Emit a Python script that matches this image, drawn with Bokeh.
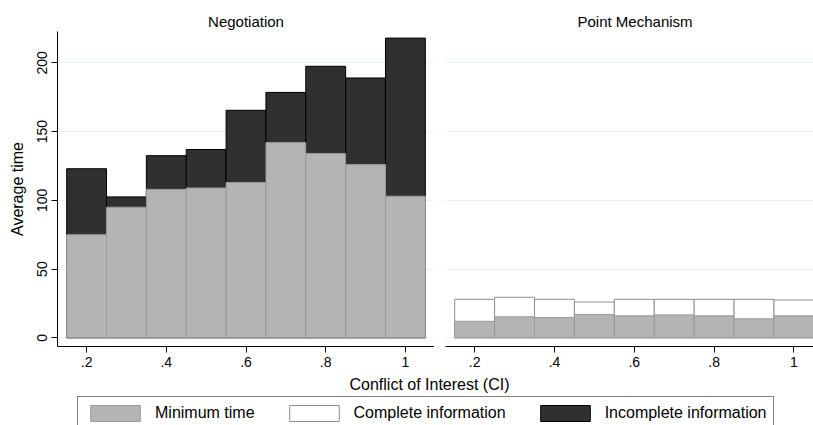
from bokeh.plotting import figure
from bokeh.layouts import column, row
from bokeh.models import (Range1d, FixedTicker, Grid, Legend, LegendItem,
                          Label, ColumnDataSource, Title)
from bokeh.embed import file_html
from bokeh.resources import INLINE

# ---- data ----
ci = [0.2, 0.3, 0.4, 0.5, 0.6, 0.7, 0.8, 0.9, 1.0]
neg_min = [75, 95, 108, 109, 113, 142, 134, 126, 103]
neg_incomplete = [123, 102.5, 132.5, 137, 165.5, 178.5, 197.5, 189, 218]
pm_min = [12, 15.3, 14.8, 17, 16, 16.7, 16, 13.8, 16]
pm_complete = [28, 29.5, 28, 26, 28, 28, 28, 28, 27.5]
x_ticks = [0.2, 0.4, 0.6, 0.8, 1.0]
x_tick_labels = [".2", ".4", ".6", ".8", "1"]
y_ticks = [0, 50, 100, 150, 200]
panel_titles = ["Negotiation", "Point Mechanism"]
legend_labels = ["Minimum time", "Complete information", "Incomplete information"]

FONT = "Liberation Sans"
GREY, GREY_LINE = "#b4b4b4", "#9a9a9a"
DARK, DARK_LINE = "#303030", "#000000"
WHITE, WHITE_LINE = "#ffffff", "#8f8f8f"
GRID = "#e8f0f1"

TOTAL_W, TOTAL_H = 813, 425
PANEL_H = 376
y_range = Range1d(-6.3, 222.8)


def style_xaxis(p):
    ax = p.xaxis[0]
    ax.ticker = FixedTicker(ticks=x_ticks)
    ax.major_label_overrides = {t: l for t, l in zip(x_ticks, x_tick_labels)}
    ax.major_tick_out = 6
    ax.major_tick_in = 0
    ax.minor_tick_line_color = None
    ax.major_label_standoff = 4
    ax.major_label_text_font = FONT
    ax.major_label_text_font_size = "14px"
    ax.major_label_text_color = "black"
    ax.axis_line_color = "black"
    ax.major_tick_line_color = "black"


def make_title(text, align, offset=0):
    return Title(text=text, align=align, offset=offset, text_font=FONT,
                 text_font_size="15px", text_font_style="normal",
                 text_color="black", standoff=3)


# ---- left panel ----
pl = figure(width=434, height=PANEL_H, output_backend="svg", toolbar_location=None,
            x_range=Range1d(0.127, 1.073), y_range=y_range,
            min_border_left=57, min_border_right=0, min_border_top=31,
            min_border_bottom=30, outline_line_color=None, title=None)
pl.add_layout(make_title(panel_titles[0], "center"), "above")
pl.vbar(x=ci, top=neg_incomplete, bottom=0, width=0.1,
        fill_color=DARK, line_color=DARK_LINE, line_width=1)
pl.vbar(x=ci, top=neg_min, bottom=0, width=0.1,
        fill_color=GREY, line_color=GREY_LINE, line_width=1)
style_xaxis(pl)
ya = pl.yaxis[0]
ya.ticker = FixedTicker(ticks=y_ticks)
ya.major_label_orientation = "vertical"
ya.major_tick_out = 6
ya.major_tick_in = 0
ya.minor_tick_line_color = None
ya.major_label_standoff = 4
ya.major_label_text_font = FONT
ya.major_label_text_font_size = "14px"
ya.major_label_text_color = "black"
ya.axis_line_color = "black"
ya.axis_label = "Average time"
ya.axis_label_text_font = FONT
ya.axis_label_text_font_size = "16px"
ya.axis_label_text_font_style = "normal"
ya.axis_label_text_color = "black"
ya.axis_label_standoff = 9
pl.xgrid.grid_line_color = None
pl.ygrid.grid_line_color = GRID
pl.ygrid.ticker = FixedTicker(ticks=y_ticks)

# ---- right panel ----
pr = figure(width=TOTAL_W - 434, height=PANEL_H, output_backend="svg",
            toolbar_location=None,
            x_range=Range1d(0.127, 1.049), y_range=y_range, y_axis_location=None,
            min_border_left=11, min_border_right=0, min_border_top=31,
            min_border_bottom=30, outline_line_color=None, title=None)
pr.add_layout(make_title(panel_titles[1], "left", 132), "above")
pr.add_layout(Grid(dimension=1, ticker=FixedTicker(ticks=y_ticks),
                   grid_line_color=GRID), "center")
pr.vbar(x=ci, top=pm_complete, bottom=0, width=0.1,
        fill_color=WHITE, line_color=WHITE_LINE, line_width=1)
pr.vbar(x=ci, top=pm_min, bottom=0, width=0.1,
        fill_color=GREY, line_color=GREY_LINE, line_width=1)
style_xaxis(pr)
pr.xgrid.grid_line_color = None

# ---- bottom: shared x-axis title and legend ----
BH = TOTAL_H - PANEL_H
pb = figure(width=TOTAL_W, height=BH, output_backend="svg", toolbar_location=None,
            x_range=Range1d(0, TOTAL_W), y_range=Range1d(0, BH),
            x_axis_location=None, y_axis_location=None,
            min_border=0, outline_line_color=None)
pb.grid.grid_line_color = None
pb.add_layout(Label(x=429, y=BH - 8, text="Conflict of Interest (CI)",
                    text_align="center", text_baseline="middle",
                    text_font=FONT, text_font_size="16px", text_color="black"))
# off-screen placeholder renderers that only supply the legend swatches
placeholder = ColumnDataSource(data=dict(x=[-1000], top=[-1000]))
r_min = pb.vbar(x="x", top="top", width=1, source=placeholder,
                fill_color=GREY, line_color=GREY_LINE)
r_comp = pb.vbar(x="x", top="top", width=1, source=placeholder,
                 fill_color=WHITE, line_color=WHITE_LINE)
r_inc = pb.vbar(x="x", top="top", width=1, source=placeholder,
                fill_color=DARK, line_color=DARK_LINE)
legend = Legend(items=[LegendItem(label=legend_labels[0], renderers=[r_min]),
                       LegendItem(label=legend_labels[1], renderers=[r_comp]),
                       LegendItem(label=legend_labels[2], renderers=[r_inc])],
                orientation="horizontal", location=(77, BH - 22 - 32),
                glyph_width=62, glyph_height=20, label_height=20,
                label_standoff=9, spacing=28, padding=6, margin=0,
                border_line_color="black", border_line_width=1,
                background_fill_color="white", background_fill_alpha=1,
                label_text_font=FONT, label_text_font_size="16px",
                label_text_color="black")
pb.add_layout(legend, "center")

layout = column(row(pl, pr), pb)
open("out.html", "w").write(file_html(layout, INLINE))
